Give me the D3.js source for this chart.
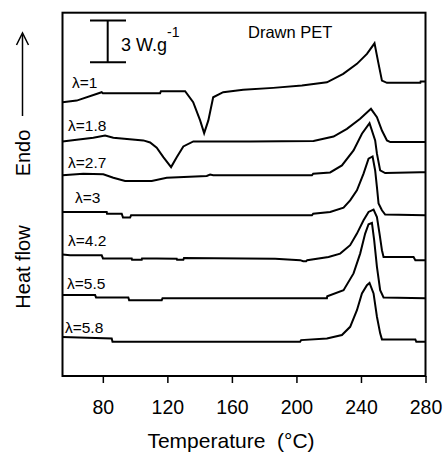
<!DOCTYPE html>
<html>
<head>
<meta charset="utf-8">
<script src="https://cdn.jsdelivr.net/npm/d3@7"></script>
<style>
  html, body { margin: 0; padding: 0; background: #fff; }
  svg { display: block; }
  text { font-family: Arial, "Liberation Sans", Helvetica, sans-serif; fill: #000; }
</style>
</head>
<body>
<svg id="chart" width="443" height="460"></svg>
<script>
// ---------------- data (temperature in °C, shifted heat flow in W/g) ----------------
const labels = ["λ=1", "λ=1.8", "λ=2.7", "λ=3", "λ=4.2", "λ=5.5", "λ=5.8"];

const tempL1 = [55, 63.8, 79.3, 80, 115.5, 116, 131, 136, 140.3, 142.8, 145.4, 148.4, 154.6, 167, 185.6, 203.4, 218.9, 229, 237.5, 243.7, 248.4, 250.9, 253, 256.1, 276.8, 277, 280];
const flowL1 = [19.59, 19.71, 20.31, 20.24, 20.24, 20.38, 20.38, 19.59, 18.29, 17.38, 18.29, 19.95, 20.31, 20.48, 20.62, 20.79, 21.02, 21.62, 22.34, 23.05, 23.81, 22.34, 21.14, 20.98, 20.98, 21.07, 21.07];

const tempL18 = [55, 63.8, 74.1, 81.4, 86.5, 105.1, 109.3, 113.4, 117.5, 122.3, 125.8, 129.9, 136.1, 171.3, 210.6, 223, 231.3, 239.5, 246.2, 249.9, 253, 256.1, 258.2, 280];
const flowL18 = [16.79, 16.91, 17.05, 17.21, 17.05, 16.86, 16.71, 16.34, 15.66, 14.95, 15.66, 16.43, 16.79, 16.79, 16.82, 17.14, 17.69, 18.41, 19.12, 18.52, 17.57, 16.86, 16.74, 16.74];

const tempL27 = [55, 67.9, 80.3, 86.5, 93.8, 110.3, 119.6, 144.4, 146.5, 148.4, 209.6, 210.4, 220.9, 228.2, 235.4, 240.6, 245.3, 248.8, 249.9, 251.9, 255, 276.8, 280];
const flowL27 = [14.36, 14.48, 14.43, 14.19, 13.95, 13.95, 14.19, 14.31, 14.41, 14.36, 14.36, 14.48, 14.57, 15.07, 16.14, 17.34, 18.09, 16.86, 15.91, 14.71, 14.52, 14.59, 14.59];

const tempL3 = [55, 82.4, 82.6, 91.7, 92.5, 96.9, 97.5, 209.6, 210.4, 220.9, 229.2, 233.3, 237.5, 241.6, 244.7, 247.2, 248.8, 249.9, 250.9, 253, 255, 280];
const flowL3 = [11.74, 11.74, 11.62, 11.62, 11.34, 11.34, 11.5, 11.5, 11.62, 11.74, 12.05, 12.57, 13.29, 14.48, 15.55, 15.71, 14.71, 13.52, 12.34, 11.86, 11.55, 11.5];

const tempL42 = [55, 59.7, 79.3, 80.1, 97.9, 98.1, 104.1, 104.3, 113.4, 125.8, 126, 129.9, 130.3, 186.8, 202.3, 204.2, 206, 206.7, 219.9, 227.1, 233.3, 237.5, 241.6, 244.7, 247.8, 249.9, 251.5, 253, 254, 272.6, 273.7, 280];
const flowL42 = [8.69, 8.64, 8.64, 8.41, 8.41, 8.32, 8.32, 8.41, 8.41, 8.39, 8.32, 8.32, 8.45, 8.39, 8.29, 8.21, 8.21, 8.29, 8.52, 8.76, 9.36, 10.19, 11.14, 11.74, 11.91, 11.38, 10.19, 9.0, 8.52, 8.52, 8.29, 8.29];

const tempL55 = [55, 75.2, 75.8, 95.8, 96.3, 116.5, 117, 218.9, 219.1, 229.2, 235.4, 239.5, 242.6, 244.7, 246.8, 248.2, 249.9, 251.9, 254, 280];
const flowL55 = [5.79, 5.79, 5.62, 5.62, 5.43, 5.43, 5.57, 5.57, 5.71, 6.14, 7.34, 8.76, 10.19, 10.86, 10.95, 9.71, 7.81, 6.14, 5.62, 5.57];

const tempL58 = [55, 85.5, 86, 202.3, 202.9, 218.9, 228.2, 233.3, 237.5, 240.6, 243.7, 245.3, 247.8, 249.9, 251.9, 253, 273.7, 274.3, 280];
const flowL58 = [2.79, 2.69, 2.45, 2.45, 2.57, 2.69, 2.93, 3.52, 4.71, 5.91, 6.5, 6.66, 5.91, 4.24, 3.05, 2.62, 2.62, 2.45, 2.45];

const labelTemp = [60.9, 58.4, 58.4, 62.7, 58.4, 57.8, 56.5];
const labelFlow = [20.64, 17.5, 14.86, 12.36, 9.29, 6.21, 3.07];

const xTicks = [80, 120, 160, 200, 240, 280];
const scaleBarValue = 3;           // W/g
const scaleBarTop = 25.45;         // W/g position of the bar top

// ---------------- chart ----------------
const svg = d3.select("#chart");
const plotLeft = 62.5, plotRight = 425.5, plotTop = 12.7, plotBottom = 376;

const x = d3.scaleLinear().domain([55, 280]).range([plotLeft, plotRight]);
const y = d3.scaleLinear().domain([0, 26]).range([plotBottom, plotTop]);

const series = [
  [tempL1, flowL1], [tempL18, flowL18], [tempL27, flowL27], [tempL3, flowL3],
  [tempL42, flowL42], [tempL55, flowL55], [tempL58, flowL58]
];

const line = d3.line().x(d => x(d[0])).y(d => y(d[1]));

series.forEach(([t, f]) => {
  const pts = t.map((v, i) => [v, f[i]]);
  svg.append("path")
    .attr("d", line(pts))
    .attr("fill", "none")
    .attr("stroke", "#000")
    .attr("stroke-width", 2)
    .attr("stroke-linejoin", "miter");
});

// frame
svg.append("rect")
  .attr("x", plotLeft).attr("y", plotTop)
  .attr("width", plotRight - plotLeft).attr("height", plotBottom - plotTop)
  .attr("fill", "none").attr("stroke", "#000").attr("stroke-width", 2);

// x axis
const xAxis = d3.axisBottom(x).tickValues(xTicks).tickSize(7).tickPadding(17);
const gx = svg.append("g").attr("transform", `translate(0,${plotBottom})`).call(xAxis);
gx.select(".domain").remove();
gx.selectAll(".tick line").attr("stroke", "#000").attr("stroke-width", 1.5);
gx.selectAll(".tick text")
  .attr("font-size", 19.5)
  .attr("font-family", "Arial, 'Liberation Sans', sans-serif")
  .attr("fill", "#000");

// axis titles
svg.append("text")
  .attr("x", 231).attr("y", 448)
  .attr("text-anchor", "middle")
  .attr("font-size", 21)
  .attr("xml:space", "preserve")
  .text("Temperature  (°C)");

svg.append("text")
  .attr("transform", "translate(30,267) rotate(-90)")
  .attr("text-anchor", "middle")
  .attr("font-size", 20)
  .text("Heat flow");

svg.append("text")
  .attr("transform", "translate(30,153) rotate(-90)")
  .attr("text-anchor", "middle")
  .attr("font-size", 20)
  .text("Endo");

// arrow
svg.append("line")
  .attr("x1", 22.5).attr("x2", 22.5).attr("y1", 116).attr("y2", 35)
  .attr("stroke", "#000").attr("stroke-width", 1.5);
svg.append("path")
  .attr("d", "M16.5,45 L22.5,33 L28.5,45")
  .attr("fill", "none").attr("stroke", "#000").attr("stroke-width", 1.5);

// curve labels
labels.forEach((lab, i) => {
  svg.append("text")
    .attr("x", x(labelTemp[i]))
    .attr("y", y(labelFlow[i]))
    .attr("font-size", 15.5)
    .text(lab);
});

// scale bar
const sbX = 107.7;
const sbTop = y(scaleBarTop), sbBot = y(scaleBarTop - scaleBarValue);
svg.append("line").attr("x1", sbX).attr("x2", sbX).attr("y1", sbTop).attr("y2", sbBot)
  .attr("stroke", "#000").attr("stroke-width", 2);
[sbTop, sbBot].forEach(yy => {
  svg.append("line").attr("x1", 90).attr("x2", 126).attr("y1", yy).attr("y2", yy)
    .attr("stroke", "#000").attr("stroke-width", 2);
});
const sbText = svg.append("text").attr("x", 121).attr("y", 51).attr("font-size", 18);
sbText.append("tspan").text(scaleBarValue + " W.g");
sbText.append("tspan").attr("dy", -14).attr("font-size", 14).text("-1");

// title
svg.append("text")
  .attr("x", 248).attr("y", 38)
  .attr("font-size", 16.5)
  .text("Drawn PET");
</script>
</body>
</html>
